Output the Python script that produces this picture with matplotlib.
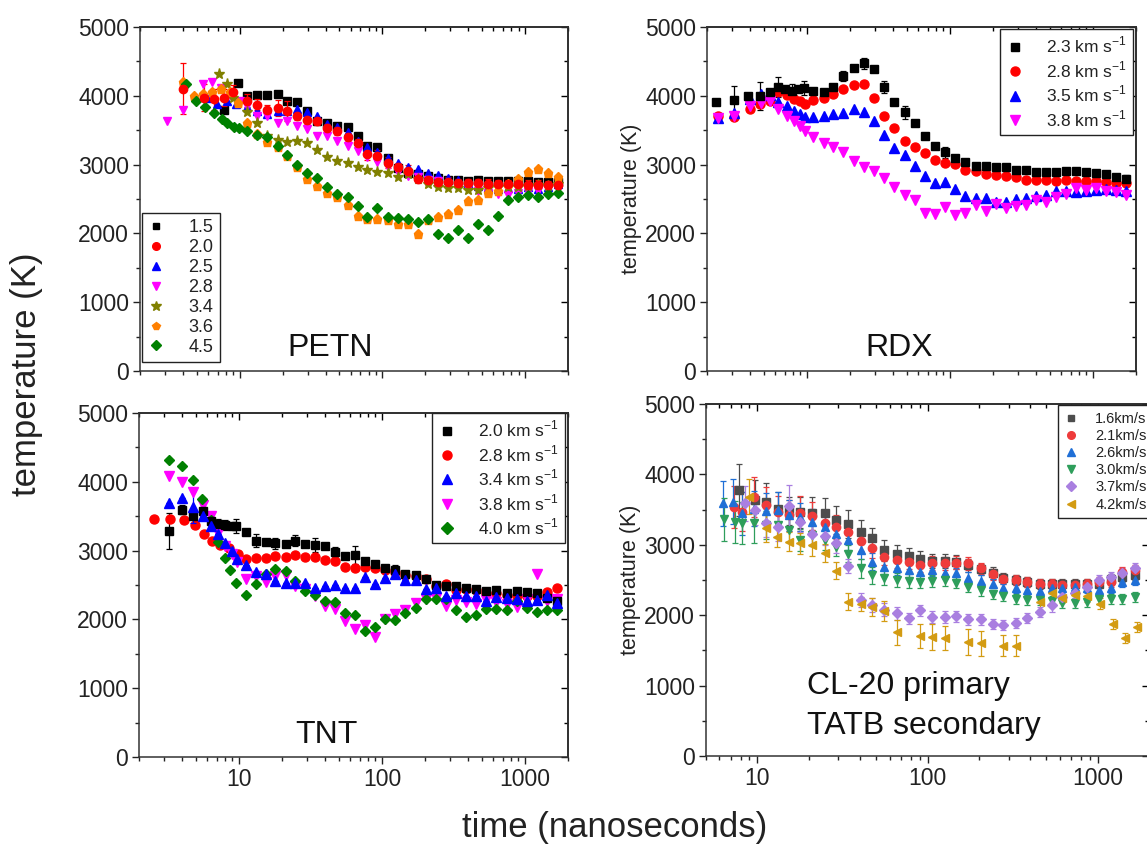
import matplotlib
matplotlib.use("Agg")
import matplotlib.pyplot as plt
from matplotlib.ticker import MultipleLocator, LogLocator, FuncFormatter, NullFormatter
from matplotlib.lines import Line2D

plt.rcParams['font.family'] = ['Liberation Sans', 'DejaVu Sans']
plt.rcParams['mathtext.fontset'] = 'custom'
plt.rcParams['mathtext.rm'] = 'Liberation Sans'

# ---------------- PETN ----------------
petn_grid = [11.3, 13.3, 15.6, 18.4, 21.6, 25.1, 29.6, 34.7, 40.8, 48.2, 57, 67, 78.5, 92, 109, 128,
             151, 178, 209, 246, 290, 341, 401, 471, 553, 650, 764, 897, 1054, 1238, 1454, 1708]
petn_labels = ['1.5', '2.0', '2.5', '2.8', '3.4', '3.6', '4.5']
petn_t_15 = [7.7, 9.8] + petn_grid
petn_T_15 = [3800, 4190, 3990, 4015, 4005, 4020, 3930, 3910, 3780, 3640, 3610, 3565, 3540, 3420, 3275, 3250,
             3100, 2950, 2880, 2870, 2830, 2800, 2780, 2770, 2760, 2770, 2760, 2760, 2760, 2760, 2760, 2750,
             2750, 2740]
petn_t_20 = [4.0, 5.6, 6.6, 7.7, 9.0] + petn_grid
petn_T_20 = [4100, 3975, 3950, 3975, 4050, 3930, 3870, 3800, 3820, 3780, 3710, 3650, 3630, 3530, 3490, 3405,
             3310, 3150, 3130, 3030, 2960, 2910, 2790, 2770, 2750, 2745, 2735, 2730, 2730, 2725, 2720, 2720,
             2715, 2710, 2710, 2705, 2700]
petn_e_20 = [370, 200, 150, 130, 100, 100, 80, 70, 120, 150, 60, 60, 60, 60, 60, 60,
             60, 80, 80, 80, 60, 80, 60, 60, 60, 80, 60, 60, 60, 60, 60, 60,
             60, 60, 60, 60, 60]
petn_t_25 = [5.9, 6.9, 8.1, 9.4] + petn_grid
petn_T_25 = [3975, 3880, 3930, 3880, 3830, 3780, 3735, 3780, 3780, 3805, 3760, 3710, 3590, 3540, 3480, 3345,
             3250, 3180, 3095, 3030, 2960, 2935, 2875, 2855, 2800, 2770, 2730, 2695, 2670, 2645, 2660, 2650,
             2670, 2650, 2670, 2720]
petn_t_28 = [3.1, 4.0, 5.5, 6.4, 7.4, 8.6, 10.0] + petn_grid
petn_T_28 = [3640, 3790, 4170, 4200, 4110, 4010, 3930, 3850, 3710, 3710, 3610, 3630, 3565, 3515, 3420, 3420,
             3345, 3275, 3200, 3105, 3045, 2960, 2890, 2840, 2815, 2780, 2760, 2720, 2695, 2655, 2620, 2585,
             2575, 2565, 2585, 2600, 2620, 2645, 2695]
petn_t_34 = [7.2, 8.1, 9.0] + petn_grid
petn_T_34 = [4320, 4170, 3975, 3760, 3610, 3420, 3355, 3330, 3345, 3310, 3215, 3115, 3055, 3020, 2960, 2920,
             2890, 2880, 2825, 2865, 2790, 2720, 2680, 2655, 2655, 2630, 2635, 2660, 2670, 2670, 2680, 2695,
             2705, 2695, 2720]
petn_t_36 = [4.0, 4.8, 5.5, 6.4, 7.4, 8.6, 9.7] + petn_grid
petn_T_36 = [4200, 4000, 4030, 4050, 4095, 4060, 3900, 3610, 3445, 3325, 3250, 3120, 2960, 2790, 2695, 2585,
             2525, 2415, 2260, 2210, 2210, 2190, 2140, 2140, 1995, 2190, 2245, 2285, 2340, 2465, 2490, 2585,
             2615, 2720, 2790, 2890, 2935, 2875, 2815]
petn_t_45 = [4.2, 4.9, 5.7, 6.6, 7.5, 8.2, 9.1, 9.9] + petn_grid
petn_T_45 = [4170, 3925, 3830, 3745, 3660, 3600, 3540, 3525, 3490, 3435, 3395, 3275, 3140, 2995, 2880, 2800,
             2680, 2575, 2525, 2405, 2245, 2370, 2235, 2225, 2210, 2165, 2210, 1995, 1935, 2045, 1935, 2130,
             2055, 2260, 2490, 2535, 2560, 2535, 2575, 2590]

# ---------------- RDX ----------------
rdx_grid = [11.1, 13.1, 15.3, 18.0, 21.2, 25.1, 29.3, 34.7, 40.8, 48.2, 56.6, 67, 78.5, 92, 109, 128,
            151, 178, 209, 246, 290, 341, 401, 471, 553, 650, 764, 897, 1054, 1238, 1454, 1708]
rdx_labels = ['2.3 km s$^{-1}$', '2.8 km s$^{-1}$', '3.5 km s$^{-1}$', '3.8 km s$^{-1}$']
rdx_t_23 = [2.3, 3.1, 3.9, 4.7, 5.5, 6.3, 7.0, 7.9, 8.6, 9.5] + rdx_grid
rdx_T_23 = [3915, 3940, 4000, 4000, 4050, 4130, 4095, 4070, 4095, 4110,
            4070, 4050, 4130, 4290, 4400, 4470, 4395, 4130, 3915, 3760, 3600, 3420, 3265, 3180, 3090, 3045,
            2975, 2975, 2960, 2960, 2920, 2920, 2890, 2890, 2890, 2905, 2900, 2890, 2875, 2865, 2815, 2790]
rdx_e_23 = [0, 200, 0, 200, 0, 150, 0, 100, 0, 100,
            0, 0, 0, 70, 0, 80, 0, 90, 0, 90, 0, 0, 0, 80, 0, 0,
            0, 0, 0, 0, 0, 0, 0, 0, 0, 0, 0, 0, 0, 0, 0, 60]
rdx_t_28 = [2.4, 3.1, 4.0, 4.7, 5.5, 6.3, 7.2, 8.1, 9.0, 9.7] + rdx_grid
rdx_T_28 = [3700, 3695, 3805, 3880, 3925, 4050, 4010, 3950, 3925, 3880,
            3940, 3975, 4025, 4095, 4160, 4170, 3965, 3710, 3530, 3345, 3250, 3170, 3065, 3025, 3010, 2925,
            2905, 2865, 2855, 2840, 2815, 2780, 2770, 2770, 2760, 2770, 2755, 2755, 2755, 2745, 2730, 2730]
rdx_t_35 = [2.4, 3.1, 4.0, 4.8, 5.5, 6.3, 7.2, 8.1, 9.0, 9.7] + rdx_grid
rdx_T_35 = [3675, 3745, 3950, 4025, 4010, 3915, 3855, 3780, 3735, 3695,
            3685, 3710, 3735, 3750, 3805, 3760, 3630, 3430, 3235, 3140, 2975, 2840, 2735, 2745, 2645, 2550,
            2515, 2515, 2455, 2455, 2500, 2515, 2550, 2565, 2610, 2620, 2600, 2620, 2635, 2645, 2630, 2620]
rdx_t_38 = [2.4, 3.1, 4.0, 4.8, 5.5, 6.3, 7.2, 8.1, 9.0, 9.7] + rdx_grid
rdx_T_38 = [3675, 3710, 3855, 3900, 3925, 3805, 3710, 3635, 3565, 3490,
            3395, 3310, 3250, 3180, 3050, 2970, 2905, 2805, 2680, 2560, 2480, 2300, 2275, 2380, 2270, 2300,
            2420, 2325, 2430, 2370, 2405, 2415, 2480, 2455, 2525, 2575, 2655, 2635, 2655, 2620, 2600, 2565]

# ---------------- TNT ----------------
tnt_grid = [11.2, 13.2, 15.5, 17.9, 21.2, 24.5, 28.9, 33.9, 39.8, 46.9, 55, 64.4, 75.9, 89.8, 105, 124,
            146, 172, 203, 238, 279, 329, 388, 455, 535, 632, 743, 874, 1026, 1208, 1421, 1670]
tnt_labels = ['2.0 km s$^{-1}$', '2.8 km s$^{-1}$', '3.4 km s$^{-1}$', '3.8 km s$^{-1}$', '4.0 km s$^{-1}$']
tnt_t_20 = [3.26, 4.0, 4.8, 5.6, 6.4, 7.1, 8.0, 8.9, 9.6] + tnt_grid
tnt_T_20 = [3290, 3595, 3500, 3570, 3425, 3390, 3370, 3355, 3355,
            3265, 3145, 3125, 3110, 3100, 3145, 3090, 3080, 3065, 2980, 2920, 2935, 2845, 2800, 2750, 2725,
            2660, 2650, 2580, 2505, 2490, 2480, 2460, 2435, 2410, 2425, 2385, 2410, 2400, 2385, 2315, 2265]
tnt_e_20 = [260, 70, 0, 0, 60, 70, 70, 0, 100,
            0, 90, 0, 80, 0, 80, 0, 100, 0, 70, 0, 130, 0, 0, 0, 70,
            0, 0, 0, 0, 0, 0, 0, 0, 0, 0, 0, 0, 0, 0, 0, 0]
tnt_t_28 = [2.53, 3.3, 4.1, 4.9, 5.7, 6.5, 7.4, 8.5, 9.8] + tnt_grid
tnt_T_28 = [3460, 3460, 3440, 3365, 3245, 3135, 3080, 3040, 2945,
            2885, 2895, 2895, 2920, 2905, 2935, 2910, 2910, 2860, 2845, 2765, 2750, 2760, 2750, 2725, 2690,
            2650, 2630, 2580, 2490, 2520, 2425, 2445, 2425, 2385, 2385, 2360, 2345, 2335, 2335, 2400, 2460]
tnt_t_34 = [3.23, 4.0, 4.8, 5.6, 6.4, 7.1, 8.0, 8.9, 9.7] + tnt_grid
tnt_T_34 = [3690, 3765, 3630, 3500, 3355, 3235, 3110, 3000, 2880,
            2785, 2685, 2660, 2565, 2530, 2530, 2530, 2460, 2485, 2505, 2460, 2460, 2620, 2520, 2595, 2660,
            2570, 2570, 2445, 2460, 2335, 2385, 2335, 2335, 2265, 2330, 2315, 2290, 2265, 2280, 2360, 2240]
tnt_e_34 = [0, 0, 230, 0, 0, 0, 0, 0, 0] + [0] * 32
tnt_t_38 = [3.23, 4.0, 4.8, 5.6, 6.4, 7.1, 8.0, 8.9, 9.7] + tnt_grid
tnt_T_38 = [4080, 3995, 3850, 3670, 3500, 3250, 3065, 2945, 2830,
            2590, 2630, 2540, 2630, 2650, 2485, 2435, 2340, 2195, 2155, 1975, 1865, 1925, 1740, 2000, 2080,
            2130, 2240, 2290, 2315, 2195, 2280, 2250, 2230, 2275, 2250, 2230, 2185, 2290, 2660, 2265, 2290]
tnt_t_40 = [3.23, 4.0, 4.8, 5.5, 6.4, 7.1, 8.0, 8.7, 9.5] + tnt_grid
tnt_T_40 = [4320, 4235, 4030, 3755, 3450, 3125, 2895, 2715, 2530,
            2360, 2520, 2665, 2735, 2710, 2565, 2420, 2360, 2265, 2250, 2095, 2070, 1830, 1890, 2010, 1985,
            2095, 2170, 2300, 2300, 2290, 2130, 2035, 2070, 2145, 2145, 2130, 2265, 2170, 2110, 2130, 2130]

# ---------------- CL-20 / TATB ----------------
cl_grid = [11.3, 13.2, 15.3, 17.9, 21.1, 24.9, 29.2, 34.3, 40.5, 47.2, 55.5, 65.9, 77.4, 90.5, 106, 126,
           147, 174, 206, 241, 279, 329, 386, 455, 536, 620, 735, 864, 1016, 1198, 1389, 1648]
cl_labels = ['1.6km/s', '2.1km/s', '2.6km/s', '3.0km/s', '3.7km/s', '4.2km/s']
cl_late_err = [70] * 12
cl_t_16 = [7.85, 9.7] + cl_grid
cl_T_16 = [3780, 3635, 3610, 3515, 3485, 3460, 3445, 3445, 3350, 3295, 3185, 3090, 2925, 2875, 2845, 2805,
           2770, 2770, 2760, 2710, 2650, 2600, 2530, 2505, 2475, 2440, 2440, 2440, 2440, 2440, 2450, 2520,
           2545, 2570]
cl_e_16 = [370, 280, 270, 230, 200, 220, 230, 220, 200, 200, 170, 150, 150, 120, 110, 110,
           100, 100, 100, 90, 80, 80] + cl_late_err
cl_t_21 = [7.3, 8.1, 9.6] + cl_grid
cl_T_21 = [3540, 3470, 3680, 3565, 3470, 3420, 3445, 3410, 3305, 3255, 3185, 3055, 2950, 2830, 2780, 2760,
           2710, 2745, 2735, 2745, 2735, 2665, 2580, 2520, 2500, 2475, 2450, 2440, 2425, 2425, 2450, 2475,
           2475, 2615, 2640]
cl_e_21 = [300, 280, 280, 250, 230, 220, 250, 200, 180, 170, 160, 150, 140, 120, 110, 100,
           100, 100, 90, 90, 90, 80, 80] + cl_late_err
cl_t_26 = [6.3, 7.2, 8.1, 9.6] + cl_grid
cl_T_26 = [3590, 3610, 3445, 3515, 3485, 3495, 3420, 3400, 3330, 3255, 3160, 3065, 2925, 2760, 2690, 2665,
           2640, 2615, 2640, 2600, 2595, 2530, 2485, 2450, 2380, 2380, 2355, 2345, 2380, 2380, 2405, 2380,
           2355, 2380, 2475, 2500]
cl_e_26 = [320, 320, 300, 250, 250, 250, 220, 200, 180, 160, 150, 140, 130, 120, 110, 100,
           100, 90, 90, 90, 80, 80, 80, 70] + [70] * 12
cl_t_30 = [6.4, 7.4, 8.1, 9.6] + cl_grid
cl_T_30 = [3360, 3325, 3315, 3305, 3280, 3280, 3210, 3065, 3140, 3065, 2970, 2875, 2665, 2570, 2535, 2500,
           2485, 2475, 2485, 2500, 2460, 2405, 2355, 2295, 2275, 2235, 2215, 2215, 2205, 2175, 2175, 2190,
           2235, 2225, 2225, 2260]
cl_e_30 = [310, 300, 300, 280, 200, 180, 170, 160, 150, 140, 130, 120, 130, 120, 110, 100,
           100, 90, 90, 90, 80, 80, 80, 70] + [70] * 12
cl_t_37 = [8.5, 9.7] + cl_grid
cl_T_37 = [3590, 3495, 3305, 3255, 3550, 3330, 3150, 3125, 3020, 2695, 2215, 2140, 2080, 2025, 1955, 2070,
           1975, 1975, 1985, 1940, 1940, 1880, 1860, 1890, 1955, 2040, 2140, 2260, 2310, 2405, 2500, 2545,
           2595, 2665]
cl_e_37 = [250, 220, 200, 200, 300, 150, 150, 130, 130, 100, 100, 100, 90, 90, 80, 80,
           90, 90, 80, 80, 80, 70, 70, 70, 70, 70, 100, 70, 70, 70, 70, 70, 70, 70]
cl_t_42 = [9.0, 11.2, 13.0, 15.3, 17.9, 21.1, 24.9, 29.2, 34.3, 40.5, 47.2, 55.5, 65.9, 90.5, 106, 126,
           174, 206, 279, 329, 455, 536, 620, 735, 864, 1030, 1223, 1449, 1690]
cl_T_42 = [3685, 3235, 3115, 3045, 3020, 2995, 2885, 2630, 2190, 2155, 2120, 2060, 1755, 1700, 1690, 1670,
           1620, 1600, 1565, 1565, 2190, 2310, 2250, 2285, 2270, 2165, 1880, 1680, 1835]
cl_e_42 = [250, 200, 150, 140, 150, 150, 130, 120, 120, 100, 130, 140, 180, 170, 190, 170,
           180, 180, 150, 150, 120, 80, 80, 80, 80, 80, 70, 70, 70]

# ---------------- figure ----------------
W, H = 1147, 844
fig = plt.figure(figsize=(W / 100, H / 100), dpi=100)


def axes_px(x0, x1, y0, y1):
    return fig.add_axes([x0 / W, 1 - y1 / H, (x1 - x0) / W, (y1 - y0) / H])


TICK_FS = 16.5


def style(ax, xmin, xmax, xlabels):
    ax.set_xscale('log')
    ax.set_xlim(xmin, xmax)
    ax.set_ylim(0, 5000)
    ax.yaxis.set_major_locator(MultipleLocator(1000))
    ax.yaxis.set_minor_locator(MultipleLocator(500))
    ax.xaxis.set_major_locator(LogLocator(base=10))
    ax.xaxis.set_minor_locator(LogLocator(base=10, subs=range(2, 10)))
    ax.xaxis.set_minor_formatter(NullFormatter())
    if xlabels:
        ax.xaxis.set_major_formatter(FuncFormatter(lambda v, p: f"{v:g}"))
    else:
        ax.xaxis.set_major_formatter(NullFormatter())
    ax.tick_params(which='both', direction='out', labelsize=TICK_FS, colors='#222222',
                   width=1.0, pad=3)
    ax.tick_params(which='major', length=5)
    ax.tick_params(which='minor', length=3)
    for s in ax.spines.values():
        s.set_linewidth(1.1)
        s.set_color('#333333')
    top = ax.secondary_xaxis('top')
    top.xaxis.set_major_locator(LogLocator(base=10))
    top.xaxis.set_minor_locator(LogLocator(base=10, subs=range(2, 10)))
    top.tick_params(which='both', direction='in', labeltop=False, width=1.0)
    top.tick_params(which='major', length=5)
    top.tick_params(which='minor', length=3)
    top.spines['top'].set_linewidth(1.1)
    right = ax.secondary_yaxis('right')
    right.yaxis.set_major_locator(MultipleLocator(1000))
    right.yaxis.set_minor_locator(MultipleLocator(500))
    right.tick_params(which='both', direction='in', labelright=False, width=1.0)
    right.tick_params(which='major', length=5)
    right.tick_params(which='minor', length=3)
    right.spines['right'].set_linewidth(1.1)


def series(ax, t, T, color, marker, ms, err=None, ecolor=None):
    if err is None:
        ax.plot(t, T, linestyle='none', marker=marker, color=color, ms=ms, mec=color, zorder=3)
    else:
        ax.errorbar(t, T, yerr=err, fmt=marker, color=color, ms=ms, mec=color,
                    ecolor=ecolor or color, elinewidth=0.9, capsize=2.5, capthick=0.9, zorder=3)


def legend(ax, labels, colors, markers, sizes, fs, loc, anchor, spacing, tpad=0.8, hlen=1.0, bpad=0.35):
    handles = [Line2D([], [], linestyle='none', marker=m, color=c, mec=c, ms=s)
               for c, m, s in zip(colors, markers, sizes)]
    lg = ax.legend(handles, labels, loc=loc, bbox_to_anchor=anchor, fontsize=fs,
                   frameon=True, fancybox=False, framealpha=1, edgecolor='#222222',
                   borderaxespad=0, labelspacing=spacing, handletextpad=tpad,
                   handlelength=hlen, borderpad=bpad)
    lg.get_frame().set_linewidth(1.0)
    for txt in lg.get_texts():
        txt.set_color('#222222')
    return lg


# PETN
ax1 = axes_px(140, 568, 27, 371)
style(ax1, 2, 2000, False)
pc = ['black', 'red', 'blue', 'magenta', '#808000', '#FF8000', '#008000']
pm = ['s', 'o', '^', 'v', '*', 'p', 'D']
ps = [5.5, 6, 6, 6, 8, 6.5, 5]
series(ax1, petn_t_15, petn_T_15, pc[0], pm[0], ps[0])
series(ax1, petn_t_20, petn_T_20, pc[1], pm[1], ps[1], err=petn_e_20)
series(ax1, petn_t_25, petn_T_25, pc[2], pm[2], ps[2])
series(ax1, petn_t_28, petn_T_28, pc[3], pm[3], ps[3])
series(ax1, petn_t_34, petn_T_34, pc[4], pm[4], ps[4])
series(ax1, petn_t_36, petn_T_36, pc[5], pm[5], ps[5])
series(ax1, petn_t_45, petn_T_45, pc[6], pm[6], ps[6])
legend(ax1, petn_labels, pc, pm, [5, 5.5, 5.5, 5.5, 7, 6, 5], 13, 'lower left', (0.005, 0.026), 0.16,
       tpad=1.4, hlen=0.8)
ax1.text(0.444, 0.067, 'PETN', transform=ax1.transAxes, ha='center', va='center', fontsize=23, color='#111111')

# RDX
ax2 = axes_px(707, 1136, 27, 371)
style(ax2, 2, 2000, False)
rc = ['black', 'red', 'blue', 'magenta']
rm = ['s', 'o', '^', 'v']
series(ax2, rdx_t_23, rdx_T_23, rc[0], rm[0], 6, err=rdx_e_23)
series(ax2, rdx_t_28, rdx_T_28, rc[1], rm[1], 6.5)
series(ax2, rdx_t_35, rdx_T_35, rc[2], rm[2], 6.5)
series(ax2, rdx_t_38, rdx_T_38, rc[3], rm[3], 6.5)
legend(ax2, rdx_labels, rc, rm, [6, 6.5, 6.5, 6.5], 12.5, 'upper right', (0.993, 0.994), 0.22,
       tpad=1.3, hlen=1.0)
ax2.set_ylabel('temperature (K)', fontsize=15.5, color='#222222', labelpad=2)
ax2.text(0.448, 0.067, 'RDX', transform=ax2.transAxes, ha='center', va='center', fontsize=23, color='#111111')

# TNT
ax3 = axes_px(139, 568, 413, 757)
style(ax3, 2, 2000, True)
tc = ['black', 'red', 'blue', 'magenta', '#008000']
tm = ['s', 'o', '^', 'v', 'D']
series(ax3, tnt_t_20, tnt_T_20, tc[0], tm[0], 6, err=tnt_e_20)
series(ax3, tnt_t_28, tnt_T_28, tc[1], tm[1], 6.5)
series(ax3, tnt_t_34, tnt_T_34, tc[2], tm[2], 6.5, err=tnt_e_34)
series(ax3, tnt_t_38, tnt_T_38, tc[3], tm[3], 6.5)
series(ax3, tnt_t_40, tnt_T_40, tc[4], tm[4], 5.5)
legend(ax3, tnt_labels, tc, tm, [6, 6.5, 6.5, 6.5, 6], 12.5, 'upper right', (0.993, 1.0), 0.22,
       tpad=1.3, hlen=1.0)
ax3.text(0.438, 0.064, 'TNT', transform=ax3.transAxes, ha='center', va='center', fontsize=23, color='#111111')

# CL-20 / TATB
ax4 = axes_px(706, 1149, 404, 756)
style(ax4, 5, 2000, True)
cc = ['#4d4d4d', '#EE3B3B', '#1F6FD6', '#2E9E5B', '#A97FE0', '#D39B12']
cm = ['s', 'o', '^', 'v', 'D', '<']
series(ax4, cl_t_16, cl_T_16, cc[0], cm[0], 5.5, err=cl_e_16)
series(ax4, cl_t_21, cl_T_21, cc[1], cm[1], 6, err=cl_e_21)
series(ax4, cl_t_26, cl_T_26, cc[2], cm[2], 6, err=cl_e_26)
series(ax4, cl_t_30, cl_T_30, cc[3], cm[3], 6, err=cl_e_30)
series(ax4, cl_t_37, cl_T_37, cc[4], cm[4], 5.5, err=cl_e_37)
series(ax4, cl_t_42, cl_T_42, cc[5], cm[5], 6, err=cl_e_42)
legend(ax4, cl_labels, cc, cm, [5, 5.5, 5.5, 5.5, 5, 5.5], 10.5, 'upper left', (0.795, 0.997), 0.22,
       tpad=1.3, hlen=0.8, bpad=0.45)
ax4.set_ylabel('temperature (K)', fontsize=15.5, color='#222222', labelpad=2)
ax4.text(0.228, 0.142, 'CL-20 primary\nTATB secondary', transform=ax4.transAxes, ha='left', va='center',
         fontsize=23, color='#111111', linespacing=1.42)

fig.text(27 / W, 1 - 374 / H, 'temperature (K)', rotation=90, ha='center', va='center', fontsize=25,
         color='#222222')
fig.text(615 / W, 1 - 828 / H, 'time (nanoseconds)', ha='center', va='center', fontsize=25, color='#222222')

fig.savefig('out.png', dpi=100)
